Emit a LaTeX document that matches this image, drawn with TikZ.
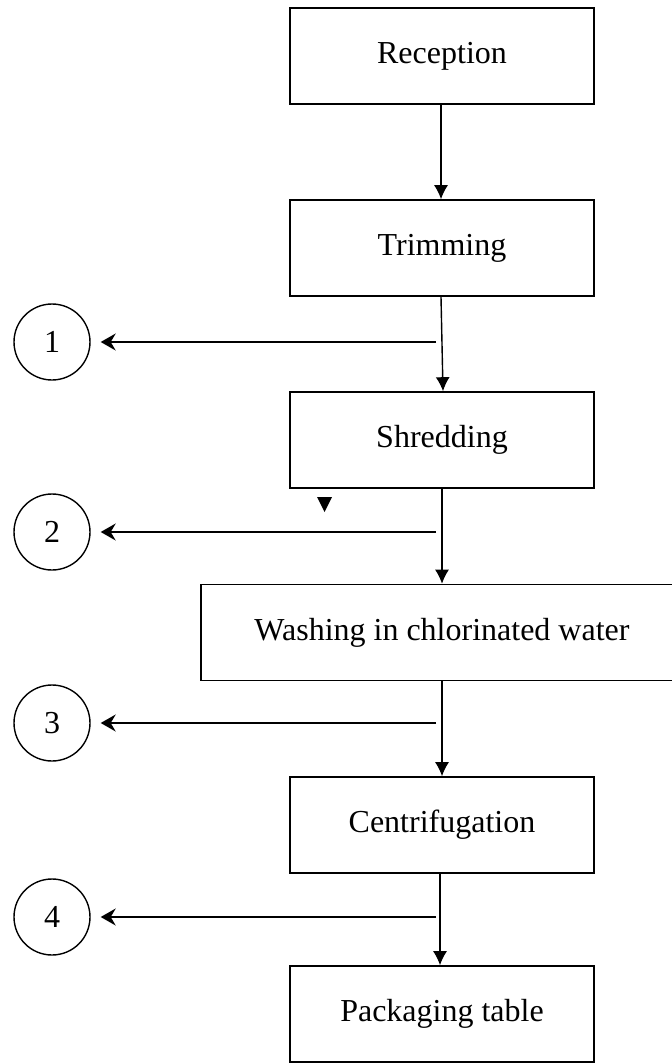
\documentclass[tikz,border=0pt]{standalone}
\usepackage{fontspec}
\setmainfont{Liberation Serif}
\usetikzlibrary{arrows.meta}
\tikzset{
  stepbox/.style={draw, line width=1.6pt, minimum height=96pt, minimum width=304pt, inner sep=0pt, font=\fontsize{32}{38}\selectfont},
  widebox/.style={stepbox, minimum width=482pt},
  numcirc/.style={draw, circle, line width=1.4pt, minimum size=76pt, inner sep=0pt, font=\fontsize{32}{38}\selectfont},
  down/.style={line width=1.4pt, -{Latex[length=14pt,width=14pt]}},
  side/.style={line width=1.4pt, -{Stealth[length=15pt,width=17pt,inset=5pt]}}
}
\begin{document}
\begin{tikzpicture}[x=1pt,y=-1pt]
\useasboundingbox (0,0) rectangle (672,1063);
\node[stepbox] (rec) at (442,56) {Reception};
\node[stepbox] (trim) at (442,248) {Trimming};
\node[stepbox] (shred) at (442,440) {Shredding};
\node[widebox] (wash) at (442,632.5) {Washing in chlorinated water};
\node[stepbox] (cent) at (442,825) {Centrifugation};
\node[stepbox] (pack) at (442,1014) {Packaging table};
\node[numcirc] (c1) at (52,342) {1};
\node[numcirc] (c2) at (52,532) {2};
\node[numcirc] (c3) at (52,723) {3};
\node[numcirc] (c4) at (52,917) {4};
\coordinate (s1) at (436,342);
\coordinate (s2) at (436,532);
\coordinate (s3) at (436,723);
\coordinate (s4) at (436,917);
\draw[down] ([xshift=-1pt]rec.south) -- ([xshift=-1pt]trim.north);
\draw[down] ([xshift=-1pt]trim.south) -- ([xshift=1pt]shred.north);
\draw[down] (shred.south) -- (wash.north);
\draw[down] (wash.south) -- (cent.north);
\draw[down] ([xshift=-2pt]cent.south) -- ([xshift=-2pt]pack.north);
\draw[side] (s1) -- ([xshift=10pt]c1.east);
\draw[side] (s2) -- ([xshift=10pt]c2.east);
\draw[side] (s3) -- ([xshift=10pt]c3.east);
\draw[side] (s4) -- ([xshift=10pt]c4.east);
\fill (317,497) -- (332,497) -- (324.5,512) -- cycle;
\end{tikzpicture}
\end{document}
